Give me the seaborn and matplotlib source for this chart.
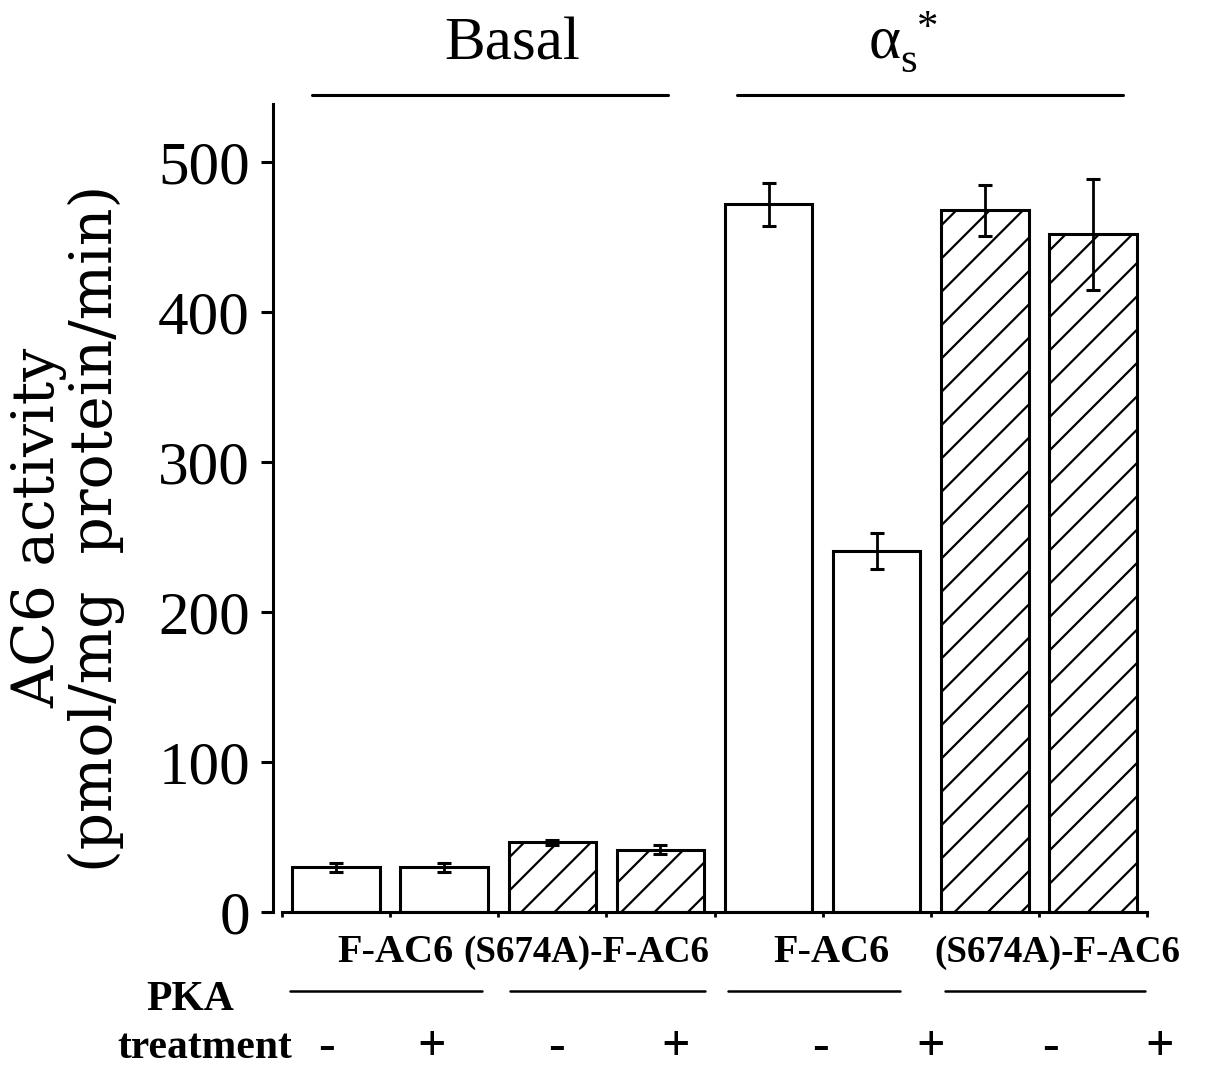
import numpy as np
import pandas as pd
import matplotlib
matplotlib.use("Agg")
import matplotlib.pyplot as plt
from matplotlib.lines import Line2D
import seaborn as sns

# ---- data ----
conditions = ["Basal", "Basal", "Basal", "Basal", "as", "as", "as", "as"]
constructs = ["F-AC6", "F-AC6", "(S674A)-F-AC6", "(S674A)-F-AC6",
              "F-AC6", "F-AC6", "(S674A)-F-AC6", "(S674A)-F-AC6"]
pka_signs = ["-", "+", "-", "+", "-", "+", "-", "+"]
activity = [30, 30, 46.5, 41.5, 472, 241, 468, 452]
sem = [3, 3, 1.5, 3, 14.5, 12, 17, 37]
yticks = [0, 100, 200, 300, 400, 500]

df = pd.DataFrame({
    "bar": [f"{c}|{k}|{p}" for c, k, p in zip(conditions, constructs, pka_signs)],
    "construct": constructs,
    "activity": activity,
})

sns.set_style("ticks")
plt.rcParams["font.family"] = ["Liberation Serif", "DejaVu Serif"]
plt.rcParams["mathtext.fontset"] = "custom"
plt.rcParams["mathtext.rm"] = "Liberation Serif"
plt.rcParams["mathtext.it"] = "Liberation Serif:italic"
plt.rcParams["hatch.linewidth"] = 0.8
plt.rcParams["hatch.color"] = "black"
for key in ("text.color", "axes.labelcolor", "xtick.color", "ytick.color",
            "axes.edgecolor"):
    plt.rcParams[key] = "black"

W, H = 1206, 1069
fig = plt.figure(figsize=(W / 200, H / 200), dpi=200)
ax = fig.add_axes([282 / W, 1 - 912 / H, 865 / W, 808 / H])


def fx(x):
    return x / W


def fy(y):
    return 1 - y / H


sns.barplot(data=df, x="bar", y="activity", order=list(df["bar"]),
            color="white", saturation=1, width=0.81, errorbar=None,
            edgecolor="black", linewidth=1.1, ax=ax)

for patch, name in zip(ax.patches, constructs):
    if name.startswith("(S674A)"):
        patch.set_hatch("//")

ax.errorbar(np.arange(len(activity)), activity, yerr=sem, fmt="none",
            ecolor="black", elinewidth=1.0, capsize=2.4, capthick=1.1, zorder=5)

ax.set_xlim(-0.5, 7.5)
ax.set_ylim(0, 539)
ax.set_yticks(yticks)
ax.set_yticklabels([str(v) for v in yticks])
ax.set_xticks(np.arange(-0.5, 8, 1))
ax.set_xticklabels([])
ax.set_xlabel("")
ax.set_ylabel("")
ax.tick_params(axis="y", direction="out", length=4.3, width=1.1, pad=4,
               labelsize=22, colors="black")
ax.tick_params(axis="x", direction="out", length=1.8, width=1.0, colors="black")
sns.despine(ax=ax)
ax.spines["left"].set_position(("outward", 3.2))
for s in ("left", "bottom"):
    ax.spines[s].set_linewidth(1.1)
    ax.spines[s].set_color("black")

# y-axis title
fig.text(fx(68), fy(528), "AC6 activity\n(pmol/mg  protein/min)",
         rotation=90, ha="center", va="center", fontsize=21,
         family="DejaVu Serif", linespacing=1.0)

# condition headers above the bars
fig.text(fx(512), fy(45), "Basal", ha="center", va="center", fontsize=22)
fig.text(fx(903), fy(42), r"$\mathrm{\alpha}_{\mathrm{s}}^{\ *}$", ha="center",
         va="center", fontsize=22)
for x0, x1 in [(312, 668), (737, 1123)]:
    fig.add_artist(Line2D([fx(x0), fx(x1)], [fy(95), fy(95)],
                          color="black", lw=1.1, transform=fig.transFigure))

# construct labels under the bars
for xc, label in [(395, "F-AC6"), (586, "(S674A)-F-AC6"),
                  (831, "F-AC6"), (1057, "(S674A)-F-AC6")]:
    fig.text(fx(xc), fy(953), label, ha="center", va="center",
             fontsize=14.5 if label == "F-AC6" else 13.3, fontweight="bold")
for x0, x1 in [(290, 482), (510, 705), (728, 900), (945, 1145)]:
    fig.add_artist(Line2D([fx(x0), fx(x1)], [fy(991), fy(991)],
                          color="black", lw=0.9, transform=fig.transFigure))

fig.text(fx(190), fy(1000), "PKA", ha="center", va="center",
         fontsize=15, fontweight="bold")
fig.text(fx(292), fy(1048), "treatment", ha="right", va="center",
         fontsize=15, fontweight="bold")
for xc, sign in zip([327, 432, 556, 676, 820, 931, 1051, 1160], pka_signs):
    fig.text(fx(xc), fy(1048), sign, ha="center", va="center",
             fontsize=18, fontweight="bold")

fig.savefig("out.png", dpi=200)
